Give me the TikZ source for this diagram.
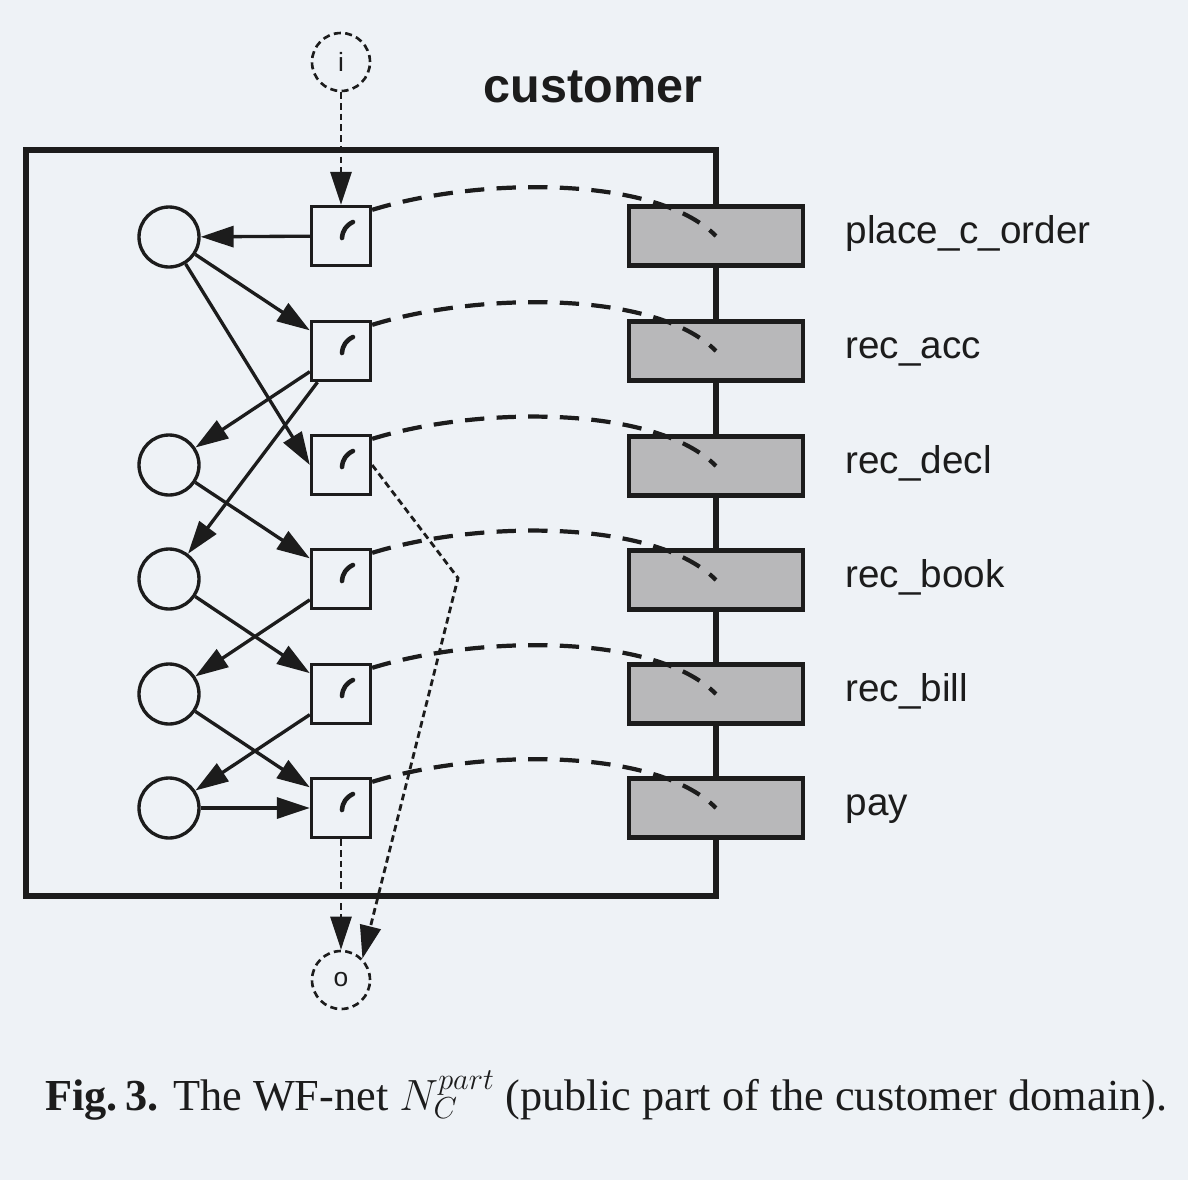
\documentclass[tikz,border=0pt]{standalone}
\usepackage{fontspec}
\setmainfont{Liberation Serif}
\setsansfont{Liberation Sans}
\usetikzlibrary{arrows.meta,calc}

\definecolor{paper}{RGB}{238,242,246}
\definecolor{ink}{RGB}{28,28,28}
\definecolor{stipple}{RGB}{184,184,186}

\tikzset{
  place/.style={circle, draw=ink, line width=1.9pt, minimum size=1.2cm, inner sep=0pt},
  trans/.style={rectangle, draw=ink, line width=1.9pt, minimum size=1.18cm, inner sep=0pt},
  ioplace/.style={circle, draw=ink, line width=1.5pt, dash pattern=on 4pt off 2.5pt,
    minimum size=1.16cm, inner sep=0pt, text=ink, font=\sffamily\fontsize{15}{16}\selectfont},
  method/.style={rectangle, draw=ink, line width=2.6pt, fill=stipple,
    minimum width=3.48cm, minimum height=1.18cm, inner sep=0pt},
  methodname/.style={anchor=base west, inner sep=0pt, text=ink,
    font=\sffamily\fontsize{22}{24}\selectfont},
  flow/.style={draw=ink, line width=1.9pt, -{Triangle[length=0.66cm,width=0.42cm]}},
  ioflow/.style={flow, line width=1.6pt, dash pattern=on 3.8pt off 2.3pt},
  channel/.style={draw=ink, line width=2.4pt, dash pattern=on 11pt off 7pt},
  notch/.style={draw=ink, line width=2.6pt, line cap=round}
}

\begin{document}
\begin{tikzpicture}[x=0.02cm, y=-0.02cm]
\fill[paper] (0,0) rectangle (1188,1180);
\useasboundingbox (0,0) rectangle (1188,1180);

% domain frame
\draw[ink, line width=3.7pt] (26,150) rectangle (716,896);
\node[anchor=base, text=ink, font=\sffamily\bfseries\fontsize{27.6}{30}\selectfont] (title) at (593,102) {customer};

% interface methods
\foreach \n/\y/\name in {1/236/place\_c\_order, 2/351/rec\_acc, 3/466/rec\_decl,
                         4/580/rec\_book, 5/694/rec\_bill, 6/808/pay}
{
  \node[method] (g\n) at (716,\y) {};
  \node[methodname] (m\n) at ($(g\n.east)+(40,7)$) {\name};
}

% places
\node[ioplace] (i) at (341,62) {i};
\node[ioplace] (o) at (341,980) {o};
\node[place] (p1) at (169,237) {};
\node[place] (p2) at (169,465) {};
\node[place] (p3) at (169,579) {};
\node[place] (p4) at (169,694) {};
\node[place] (p5) at (169,808) {};

% transitions
\node[trans] (t1) at (341,236) {};
\node[trans] (t2) at (341,351) {};
\node[trans] (t3) at (341,465) {};
\node[trans] (t4) at (341,579) {};
\node[trans] (t5) at (341,694) {};
\node[trans] (t6) at (341,808) {};

% arcs
\draw[flow] (t1) -- (p1);
\draw[flow] (p1) -- (t2);
\draw[flow] (p1) -- (t3.west);
\draw[flow] (t2) -- (p2);
\draw[flow] (t2) -- (p3);
\draw[flow] (p2) -- (t4);
\draw[flow] (t4) -- (p4);
\draw[flow] (p3) -- (t5);
\draw[flow] (t5) -- (p5);
\draw[flow] (p4) -- (t6);
\draw[flow] (p5) -- (t6);
\draw[ioflow] (i) -- (t1);
\draw[ioflow] (t6) -- (o);
\coordinate (turn) at (458,578);
\draw[ioflow] (t3.east) -- (turn) -- (o.north east);

% links to the interface
\foreach \n in {1,...,6}
{
  \draw[notch] ($(t\n)+(1,2)$) to[bend left=30] ($(t\n)+(12,-14)$);
  \draw[channel] (t\n.40) .. controls +(103,-32) and +(-62,-62) .. (g\n.center);
}

\node[anchor=base west, inner sep=0pt, text=ink, font=\fontsize{25.2}{29}\selectfont] (caption) at (45,1110)
  {\textbf{Fig.\,3.} The WF-net $N_C^{part}$ (public part of the customer domain).};
\end{tikzpicture}
\end{document}
